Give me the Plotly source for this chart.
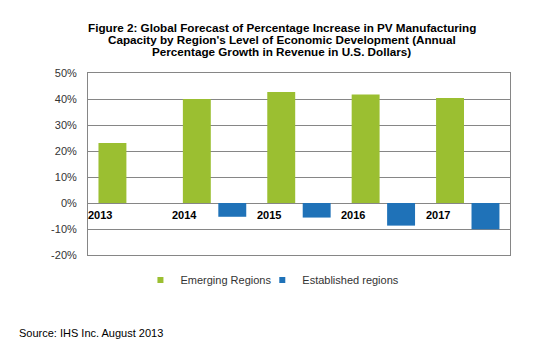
import plotly.graph_objects as go

years = ["2013", "2014", "2015", "2016", "2017"]
emerging = [23.1, 40.0, 42.7, 41.7, 40.4]
established = [None, -5.3, -5.6, -8.7, -10.1]
y_ticks = [-20, -10, 0, 10, 20, 30, 40, 50]
y_tick_labels = ["-20%", "-10%", "0%", "10%", "20%", "30%", "40%", "50%"]

title_lines = ["Figure 2: Global Forecast of Percentage Increase in PV Manufacturing",
               "Capacity by Region's Level of Economic Development (Annual",
               "Percentage Growth in Revenue in U.S. Dollars)"]
source_text = "Source: IHS Inc. August 2013"

GREEN = "#9bbf31"
BLUE = "#1f72b8"
W, H = 544, 352
L, R, T, B = 87.5, 34, 73, 97
PW = W - L - R
PH = H - T - B


def px_x(px):
    return (px - L) / PW


def px_y(py):
    return (H - B - py) / PH


fig = go.Figure()
fig.add_trace(go.Bar(x=years, y=emerging, name="Emerging Regions",
                     marker=dict(color=GREEN, line=dict(width=0)),
                     width=0.331, offset=-0.376, showlegend=False))
fig.add_trace(go.Bar(x=years, y=established, name="Established regions",
                     marker=dict(color=BLUE, line=dict(width=0)),
                     width=0.331, offset=0.044, showlegend=False))
# legend entries with small square swatches
fig.add_trace(go.Scatter(x=[None], y=[None], mode="markers", name="Emerging Regions",
                         marker=dict(symbol="square", size=6, color=GREEN), legend="legend"))
fig.add_trace(go.Scatter(x=[None], y=[None], mode="markers", name="Established regions",
                         marker=dict(symbol="square", size=6, color=BLUE), legend="legend2"))

annotations = []
for k, line in enumerate(title_lines):
    annotations.append(dict(text="<b>" + line + "</b>", x=px_x(281.5), y=px_y(27 + 12.2 * k),
                            xref="paper", yref="paper", xanchor="center", yanchor="middle",
                            showarrow=False,
                            font=dict(family="Liberation Sans, Arial", size=11.7, color="#000000")))
annotations.append(dict(text=source_text, x=px_x(16), y=px_y(333), xref="paper", yref="paper",
                        xanchor="left", yanchor="middle", showarrow=False,
                        font=dict(family="Liberation Sans, Arial", size=11, color="#000000")))
for i, yr in enumerate(years):
    annotations.append(dict(text="<b>" + yr + "</b>", x=i, y=0, xref="x", yref="y",
                            xshift=-30, yshift=-12, xanchor="center", yanchor="middle",
                            showarrow=False,
                            font=dict(family="Liberation Sans, Arial", size=11, color="#000000")))

legend_style = dict(orientation="h", xanchor="left", yanchor="middle",
                    font=dict(family="Liberation Sans, Arial", size=11, color="#333333"),
                    itemwidth=30, bgcolor="rgba(0,0,0,0)")

fig.update_layout(
    width=W, height=H,
    margin=dict(l=L, r=R, t=T, b=B, pad=0),
    paper_bgcolor="white", plot_bgcolor="white",
    barmode="overlay",
    font=dict(family="Liberation Sans, Arial", size=11, color="#333333"),
    xaxis=dict(type="category", range=[-0.5, 4.5], showticklabels=False,
               showgrid=False, zeroline=False, showline=True, linecolor="#868686",
               linewidth=1, mirror=True, ticks=""),
    yaxis=dict(range=[-20, 50], tickmode="array", tickvals=y_ticks, ticktext=y_tick_labels,
               showgrid=True, gridcolor="#868686", gridwidth=1,
               zeroline=True, zerolinecolor="#868686", zerolinewidth=1,
               showline=True, linecolor="#868686", linewidth=1, mirror=True,
               ticks="", ticklabelstandoff=8,
               tickfont=dict(family="Liberation Sans, Arial", size=11, color="#333333")),
    legend=dict(x=px_x(140), y=px_y(280), **legend_style),
    legend2=dict(x=px_x(262), y=px_y(280), **legend_style),
    annotations=annotations,
)

fig.write_html("out.html")
